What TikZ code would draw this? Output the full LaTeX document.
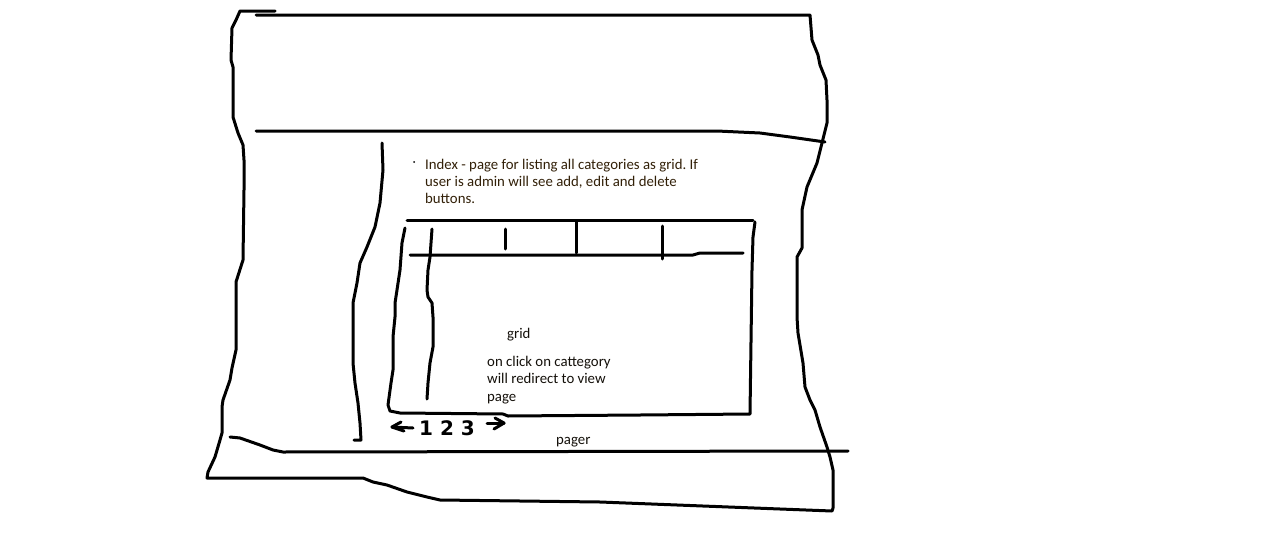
\documentclass[tikz,border=0pt]{standalone}
\usepackage{fontspec}
\newfontfamily\calfont{Carlito}
\newfontfamily\handfont{DejaVu Sans}
\definecolor{inkbrown}{RGB}{50,32,8}
\definecolor{inkdark}{RGB}{20,16,10}
\frenchspacing
\begin{document}
\begin{tikzpicture}[x=1pt,y=-1pt,
  pen/.style={line width=3pt,line join=round,line cap=round,black},
  note/.style={inner sep=0pt,font=\calfont\fontsize{14.8}{17}\selectfont,align=left},
  digits/.style={inner sep=0pt,font=\handfont\bfseries\fontsize{20}{20}\selectfont}]
\useasboundingbox[fill=white] (0,0) rectangle (1262,533);

% outer page border
\draw[pen] (275,11) -- (240,11) -- (236,20) -- (232,28) -- (231,60) -- (233,67)
  -- (233,117) -- (238,133) -- (243,145) -- (244,160) -- (244,190) -- (243,260)
  -- (236,282) -- (236,350) -- (232,368) -- (230,380) -- (223,400) -- (222,407)
  -- (222,433) -- (220,440) -- (215,457) -- (208,472) -- (207,478) -- (363,478)
  -- (373,482) -- (387,485) -- (407,492) -- (427,497) -- (440,500) -- (600,502)
  -- (780,509) -- (832,511) -- (833,508) -- (833,470) -- (830,457) -- (827,447)
  -- (820,427) -- (815,410) -- (810,400) -- (805,387) -- (803,363) -- (798,333)
  -- (797,317) -- (797,257) -- (802,248) -- (802,210) -- (807,187) -- (817,163)
  -- (822,143) -- (827,123) -- (827,100) -- (826,80) -- (820,65) -- (818,55)
  -- (812,40) -- (810,15) -- (256,15);

% header bottom line
\draw[pen] (256,131) -- (717,131) -- (760,133) -- (790,137) -- (825,142);

% pager line
\draw[pen] (230,437) -- (240,438) -- (260,445) -- (273,450) -- (283,452) -- (848,451);

% inner long left line
\draw[pen] (382,143) -- (383,170) -- (380,203) -- (375,227) -- (367,247) -- (360,263)
  -- (357,283) -- (353,303) -- (353,363) -- (355,383) -- (358,403) -- (360,423)
  -- (361,440) -- (354,440);

% grid outline
\draw[pen] (405,228) -- (402,243) -- (400,270) -- (397,290) -- (395,303) -- (395,317)
  -- (393,337) -- (393,370) -- (391,383) -- (388,405) -- (390,411) -- (400,413)
  -- (503,414) -- (508,416) -- (640,415) -- (750,414) -- (752,270) -- (753,237)
  -- (755,222);
\draw[pen] (407,220) -- (753,220);

% header row line and dividers
\draw[pen] (410,255) -- (693,255) -- (700,253) -- (743,253);
\draw[pen] (505,229) -- (505,249);
\draw[pen] (576,222) -- (576,253);
\draw[pen] (662,226) -- (662,259);

% first column line
\draw[pen] (432,229) -- (430,257) -- (428,270) -- (427,290) -- (428,297) -- (432,303)
  -- (433,317) -- (433,347) -- (430,363) -- (428,383) -- (427,399);

% pager arrows
\coordinate (la) at (392,427);
\coordinate (ra) at (504,423);
\draw[pen] (413,428) -- (la);
\draw[pen] (401,422) -- (la) -- (404,431);
\draw[pen] (487,423) -- (ra);
\draw[pen] (495,418) -- (ra) -- (494,429);
\node[digits,anchor=base west] (pages) at (419,435) {1 2 3};

% texts
\fill[black] (414,162) circle (1pt);
\node[note,anchor=base west,text=inkbrown] (idx1) at (425,169) {Index - page for listing all categories as grid. If};
\node[note,anchor=base west,text=inkbrown] (idx2) at (425,186.5) {user is admin will see add, edit and delete};
\node[note,anchor=base west,text=inkbrown] (idx3) at (425,203.5) {buttons.};

\node[note,anchor=base west,text=inkdark] (grid) at (507,338.5) {grid};
\node[note,anchor=base west,text=inkdark] (cl1) at (487,366) {on click on cattegory};
\node[note,anchor=base west,text=inkdark] (cl2) at (487,383.5) {will redirect to view};
\node[note,anchor=base west,text=inkdark] (cl3) at (487,401) {page};

\node[note,anchor=base west,text=inkdark] (pager) at (556,444) {pager};
\end{tikzpicture}
\end{document}
